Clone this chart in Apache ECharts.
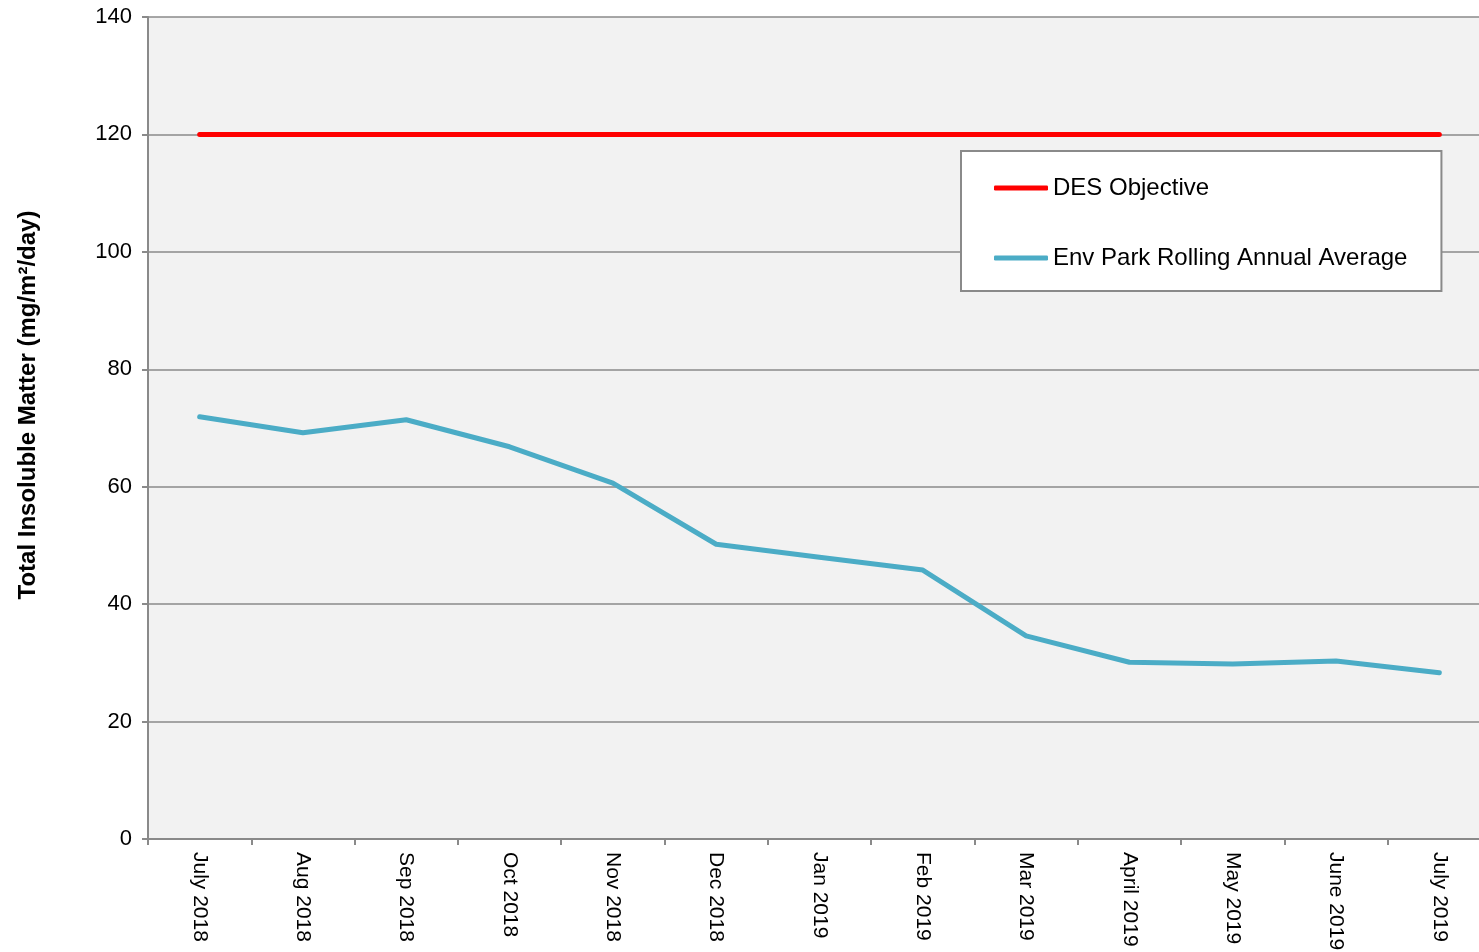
<!DOCTYPE html>
<html>
<head>
<meta charset="utf-8">
<script src="https://cdn.jsdelivr.net/npm/echarts@6/dist/echarts.min.js"></script>
<style>
  html, body { margin: 0; padding: 0; background: #fff; }
  #chart { width: 1479px; height: 952px; }
</style>
</head>
<body>
<div id="chart"></div>
<script>
// months along the x axis
var months = ['July 2018', 'Aug 2018', 'Sep 2018', 'Oct 2018', 'Nov 2018', 'Dec 2018',
  'Jan 2019', 'Feb 2019', 'Mar 2019', 'April 2019', 'May 2019', 'June 2019', 'July 2019'];
// objective line (flat)
var desObjective = [120, 120, 120, 120, 120, 120, 120, 120, 120, 120, 120, 120, 120];
// rolling annual average
var envParkAvg = [71.9, 69.2, 71.4, 66.8, 60.6, 50.2, 48.0, 45.8, 34.6, 30.1, 29.8, 30.3, 28.3];

var font = 'Liberation Sans, Arial, sans-serif';
var grey = '#8a8a8a';

var myChart = echarts.init(document.getElementById('chart'));
var option = {
  animation: false,
  textStyle: { fontFamily: font },
  grid: {
    left: 148,
    top: 17,
    width: 1343,
    height: 822,
    containLabel: false,
    outerBoundsMode: 'none',
    show: true,
    backgroundColor: '#f2f2f2',
    borderWidth: 0
  },
  legend: {
    orient: 'vertical',
    left: 961,
    top: 151,
    padding: [22, 34, 18, 33],
    backgroundColor: '#fff',
    borderColor: '#8a8a8a',
    borderWidth: 2,
    borderRadius: 0,
    itemWidth: 54,
    itemHeight: 5,
    itemGap: 40,
    icon: 'roundRect',
    textStyle: { fontSize: 24, color: '#000', fontFamily: font, lineHeight: 30 },
    data: ['DES Objective', 'Env Park Rolling Annual Average']
  },
  xAxis: {
    type: 'category',
    data: months,
    boundaryGap: true,
    axisLine: { lineStyle: { color: grey, width: 2 } },
    axisTick: { show: true, length: 6, interval: 0, lineStyle: { color: grey, width: 2 } },
    axisLabel: { interval: 0, rotate: -90, margin: 13, fontSize: 21, color: '#000', fontFamily: font },
    splitLine: { show: false }
  },
  yAxis: {
    type: 'value',
    min: 0,
    max: 140,
    interval: 20,
    name: 'Total Insoluble Matter (mg/m²/day)',
    nameLocation: 'middle',
    nameGap: 108,
    nameTextStyle: { fontSize: 24, fontWeight: 'bold', color: '#000', fontFamily: font, padding: [0, 0, 0, 46] },
    axisLine: { show: true, lineStyle: { color: grey, width: 2 } },
    axisTick: { show: true, length: 6, lineStyle: { color: grey, width: 2 } },
    axisLabel: { margin: 16, fontSize: 22, color: '#000', fontFamily: font },
    splitLine: { show: true, lineStyle: { color: grey, width: 1.5 } }
  },
  series: [
    {
      name: 'DES Objective',
      type: 'line',
      data: desObjective,
      symbol: 'none',
      color: '#ff0000',
      lineStyle: { color: '#ff0000', width: 5, cap: 'round' }
    },
    {
      name: 'Env Park Rolling Annual Average',
      type: 'line',
      data: envParkAvg,
      symbol: 'none',
      color: '#4bacc6',
      lineStyle: { color: '#4bacc6', width: 5, cap: 'round', join: 'round' }
    }
  ]
};
myChart.setOption(option);
</script>
</body>
</html>
